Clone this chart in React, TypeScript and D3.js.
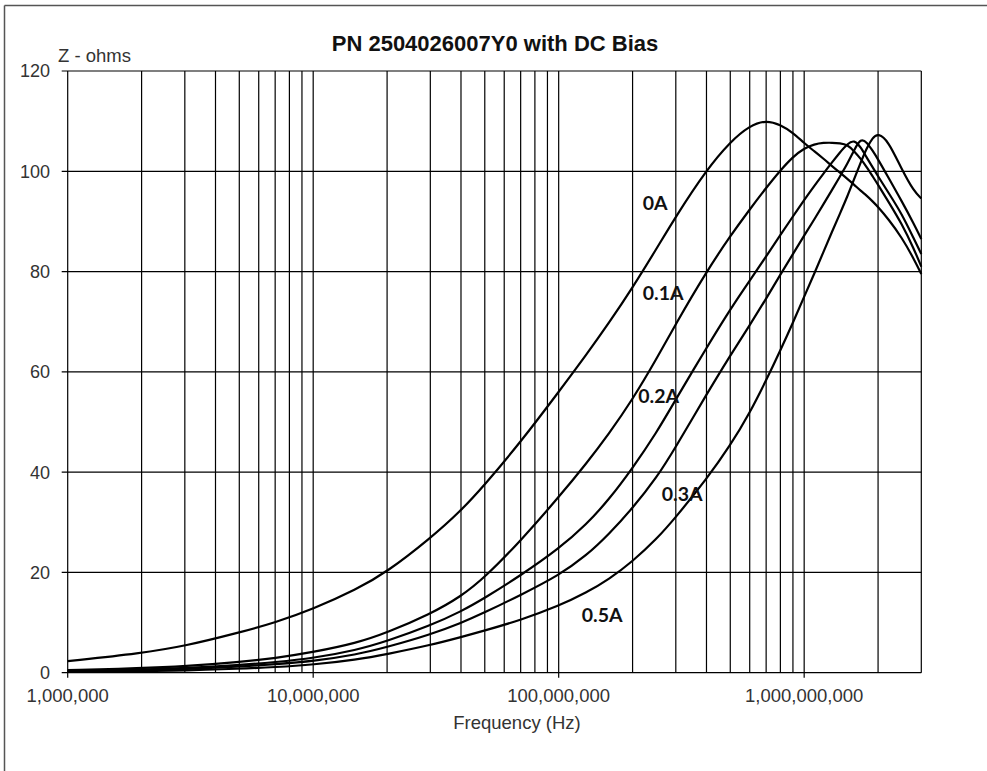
import React from "react";
import * as d3 from "d3";

const freqs = [1e6, 2e6, 3e6, 5e6, 7e6, 1e7, 1.5e7, 2e7, 3e7, 4e7, 5e7, 7e7, 1e8, 1.3e8, 1.6e8, 2e8, 2.5e8, 3e8, 4e8, 5e8, 6e8, 7e8, 8e8, 9e8, 1e9, 1.1e9, 1.2e9, 1.3e9, 1.4e9, 1.5e9, 1.6e9, 1.7e9, 1.8e9, 1.9e9, 2e9, 2.2e9, 2.5e9, 2.8e9, 3e9];

const z0A = [2.3, 3.9, 5.3, 8.0, 10.0, 12.7, 16.6, 20.1, 26.8, 32.3, 37.5, 46, 56, 63.5, 69.7, 76.8, 84.5, 91, 100.3, 105.9, 109.1, 110.2, 109.3, 107.7, 105.6, 104, 102.5, 101, 99.7, 98.5, 97.3, 96.1, 95.1, 94, 92.9, 90.5, 86.8, 82.5, 79.5];
const z01A = [0.5, 0.9, 1.3, 2.1, 2.9, 4.1, 5.9, 8.0, 11.7, 15.2, 19.0, 26.3, 35, 41.8, 47.6, 54.5, 62.5, 69.6, 80, 87.1, 92.4, 96.7, 100.2, 102.9, 104.6, 105.4, 105.7, 105.7, 105.6, 105.3, 104, 102.5, 100.8, 99, 97.3, 94, 89.5, 84.5, 81];
const z02A = [0.35, 0.6, 0.9, 1.5, 2.1, 2.9, 4.5, 6.3, 9.4, 12.2, 14.9, 19.4, 24.7, 29.6, 34.5, 40.8, 47.8, 54.5, 64.8, 72.5, 78.2, 83, 87.3, 91, 94.3, 97.1, 99.6, 101.8, 103.8, 105.5, 106.3, 104.8, 102.7, 100.8, 99, 95.8, 91.5, 86.5, 83.5];
const z03A = [0.25, 0.45, 0.7, 1.2, 1.7, 2.3, 3.6, 5.1, 7.6, 9.9, 12, 15.5, 19.4, 23.4, 27.6, 32.8, 38.8, 45, 55.5, 63.3, 69.3, 74.6, 79.4, 83.5, 87.2, 90.4, 93.5, 96.3, 99, 101.5, 104.3, 106.6, 105.8, 104.1, 102.4, 98.8, 94, 89.5, 86.5];
const z05A = [0.15, 0.3, 0.45, 0.8, 1.1, 1.6, 2.6, 3.7, 5.5, 7.1, 8.4, 10.5, 13.3, 16, 18.6, 22.2, 26.6, 31, 38.6, 45.3, 51.8, 58.3, 64.3, 69.8, 75, 79.6, 84, 88, 91.6, 95, 98.5, 101.8, 104.7, 106.7, 107.6, 106.1, 100.3, 96, 94.6];

const seriesList = [z0A, z01A, z02A, z03A, z05A];

const seriesLabels = ["0A", "0.1A", "0.2A", "0.3A", "0.5A"];
const labelPos = [
  [642.7, 210],
  [642.7, 300],
  [638.3, 403],
  [661.7, 500.7],
  [581.7, 621.7],
];

const yTicks = [0, 20, 40, 60, 80, 100, 120];
const xMajor = [1e6, 1e7, 1e8, 1e9];

const W = 987;
const H = 771;

export default function App() {
  const x = d3.scaleLog().domain([1e6, 3e9]).range([67.7, 921.3]);
  const y = d3.scaleLinear().domain([0, 120]).range([672.7, 71]);

  const gridX: number[] = [];
  for (let e = 6; e <= 8; e++) {
    for (let k = 1; k <= 9; k++) gridX.push(k * Math.pow(10, e));
  }
  gridX.push(1e9, 2e9, 3e9);

  const line = d3
    .line<number>()
    .x((_, i) => x(freqs[i]))
    .y((d) => y(d))
    .curve(d3.curveBasis);

  const fmt = d3.format(",");
  const [x0, x1] = x.range();
  const [y0, y1] = y.range();

  return (
    <svg
      width={W}
      height={H}
      style={{ position: "fixed", left: 0, top: 0, background: "#fff" }}
    >
      <rect x={0} y={0} width={W} height={H} fill="#fff" />
      <line x1={4.5} y1={5.5} x2={4.5} y2={H} stroke="#555" strokeWidth={1.5} />
      <line x1={4.5} y1={5.5} x2={W} y2={5.5} stroke="#555" strokeWidth={1.5} />

      {gridX.map((f, i) => (
        <line key={"gx" + i} x1={x(f)} x2={x(f)} y1={y1} y2={y0} stroke="#000" strokeWidth={1.2} />
      ))}
      {yTicks.map((t) => (
        <line key={"gy" + t} x1={x0 - 6} x2={x1} y1={y(t)} y2={y(t)} stroke="#000" strokeWidth={1.2} />
      ))}
      {xMajor.map((f) => (
        <line key={"xt" + f} x1={x(f)} x2={x(f)} y1={y0} y2={y0 + 5} stroke="#000" strokeWidth={1.2} />
      ))}

      {seriesList.map((s, i) => (
        <path key={"s" + i} d={line(s) || ""} fill="none" stroke="#000" strokeWidth={2.2} />
      ))}

      {yTicks.map((t) => (
        <text
          key={"yl" + t}
          x={50}
          y={y(t) + 6.4}
          textAnchor="end"
          fontFamily="'Liberation Sans', Arial, sans-serif"
          fontSize={18}
          fill="#333"
        >
          {t}
        </text>
      ))}
      {xMajor.map((f) => (
        <text
          key={"xl" + f}
          x={x(f)}
          y={701.5}
          textAnchor="middle"
          fontFamily="'Liberation Sans', Arial, sans-serif"
          fontSize={18.5}
          fill="#333"
        >
          {fmt(f)}
        </text>
      ))}

      <text
        x={495}
        y={50.7}
        textAnchor="middle"
        fontFamily="'Liberation Sans', Arial, sans-serif"
        fontWeight="bold"
        fontSize={22}
        fill="#111"
      >
        PN 2504026007Y0 with DC Bias
      </text>
      <text
        x={58}
        y={61.7}
        fontFamily="'Liberation Sans', Arial, sans-serif"
        fontSize={18.5}
        fill="#333"
      >
        Z - ohms
      </text>
      <text
        x={517}
        y={729}
        textAnchor="middle"
        fontFamily="'Liberation Sans', Arial, sans-serif"
        fontSize={18.5}
        fill="#333"
      >
        Frequency (Hz)
      </text>

      {seriesLabels.map((l, i) => (
        <text
          key={"lab" + i}
          x={labelPos[i][0]}
          y={labelPos[i][1]}
          fontFamily="Lato, 'Open Sans', sans-serif"
          fontWeight="bold"
          fontSize={19.5}
          fill="#111"
        >
          {l}
        </text>
      ))}
    </svg>
  );
}
